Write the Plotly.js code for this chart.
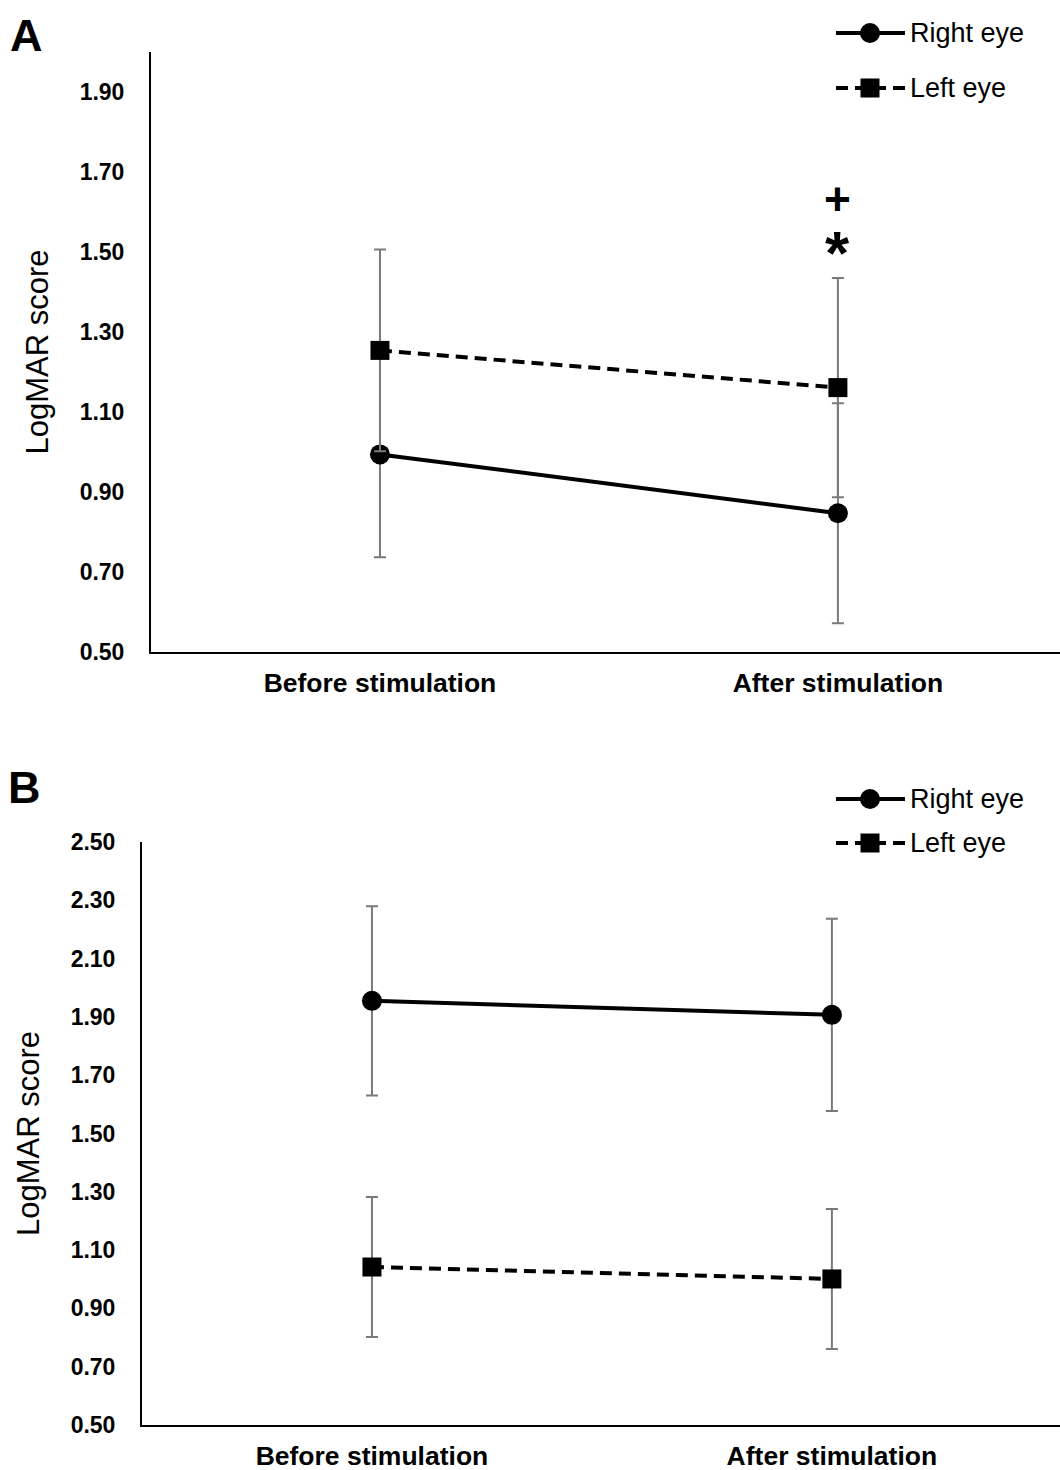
<!DOCTYPE html>
<html>
<head>
<meta charset="utf-8">
<script src="https://cdn.plot.ly/plotly-3.0.1.min.js"></script>
<style>html,body{margin:0;padding:0;background:#fff;}#chart{width:1060px;height:1470px;}</style>
</head>
<body>
<div id="chart"></div>
<script>
// ---- data ----
const categories = ["Before stimulation", "After stimulation"];
// Panel A
const A_right = [0.994, 0.847];
const A_right_err = [0.257, 0.275];
const A_left = [1.254, 1.161];
const A_left_err = [0.252, 0.274];
// Panel B
const B_right = [1.955, 1.907];
const B_right_err = [0.325, 0.330];
const B_left = [1.042, 1.001];
const B_left_err = [0.240, 0.240];
const seriesNames = ["Right eye", "Left eye"];
const A_ticks = [0.5, 0.7, 0.9, 1.1, 1.3, 1.5, 1.7, 1.9];
const B_ticks = [0.5, 0.7, 0.9, 1.1, 1.3, 1.5, 1.7, 1.9, 2.1, 2.3, 2.5];
const sigMarks = ["+", "*"];
const sigY = [1.632, 1.50];
const yTitle = "LogMAR score";
const panelLabels = ["A", "B"];

const FONT = "Liberation Sans, Arial, sans-serif";
const W = 1060, H = 1470;
const DASH = "12px,7px";
const errStyle = (arr) => ({type: "data", array: arr, visible: true, color: "#7a7a7a", thickness: 2, width: 6});

function mk(y, err, name, solid, xa, ya) {
  return {
    x: categories, y: y, name: name, type: "scatter", mode: "lines+markers",
    xaxis: xa, yaxis: ya, showlegend: false,
    line: {color: "#000", width: 4, dash: solid ? "solid" : DASH},
    marker: {color: "#000", size: solid ? 20 : 19, symbol: solid ? "circle" : "square"},
    error_y: errStyle(err)
  };
}

const data = [
  mk(A_right, A_right_err, seriesNames[0], true, "x", "y"),
  mk(A_left, A_left_err, seriesNames[1], false, "x", "y"),
  mk(B_right, B_right_err, seriesNames[0], true, "x2", "y2"),
  mk(B_left, B_left_err, seriesNames[1], false, "x2", "y2")
];

function yax(domain, range, ticks, anchor) {
  return {
    domain: domain, range: range, tickvals: ticks, ticktext: ticks.map(v => v.toFixed(2)),
    anchor: anchor,
    showgrid: false, zeroline: false, showline: true, linecolor: "#000", linewidth: 2,
    ticks: "", ticklabelstandoff: 20,
    tickfont: {family: FONT, size: 23, color: "#000", weight: "bold"},
    title: {text: yTitle, font: {family: FONT, size: 31, color: "#000"}, standoff: 22},
    fixedrange: true
  };
}
function xax(domain, range, anchor) {
  return {
    domain: domain, range: range, type: "category", anchor: anchor,
    showgrid: false, zeroline: false, showline: true, linecolor: "#000", linewidth: 2,
    ticks: "", ticklabelstandoff: 6,
    tickfont: {family: FONT, size: 26.5, color: "#000", weight: "bold"},
    fixedrange: true
  };
}

// custom legend (pixel positions converted to paper coordinates)
const px = (v) => v / W, py = (v) => 1 - v / H;
const shapes = [], annotations = [];
function legendEntry(cy, solid, label) {
  shapes.push({type: "line", xref: "paper", yref: "paper", x0: px(836), x1: px(905), y0: py(cy), y1: py(cy),
               line: {color: "#000", width: 4, dash: solid ? "solid" : DASH}});
  if (solid) {
    shapes.push({type: "circle", xref: "paper", yref: "paper", x0: px(860), x1: px(880), y0: py(cy + 10), y1: py(cy - 10),
                 fillcolor: "#000", line: {color: "#000", width: 0}});
  } else {
    shapes.push({type: "rect", xref: "paper", yref: "paper", x0: px(860.5), x1: px(879.5), y0: py(cy + 9.5), y1: py(cy - 9.5),
                 fillcolor: "#000", line: {color: "#000", width: 0}});
  }
  annotations.push({text: label, xref: "paper", yref: "paper", x: px(908), y: py(cy), xanchor: "left", yanchor: "middle",
                    showarrow: false, font: {family: FONT, size: 27, color: "#000"}});
}
legendEntry(33, true, seriesNames[0]);
legendEntry(88, false, seriesNames[1]);
legendEntry(799, true, seriesNames[0]);
legendEntry(843, false, seriesNames[1]);

annotations.push(
  {text: "<b>" + panelLabels[0] + "</b>", xref: "paper", yref: "paper", x: px(8), y: py(8), xanchor: "left", yanchor: "top",
   showarrow: false, font: {family: FONT, size: 45, color: "#000"}},
  {text: "<b>" + panelLabels[1] + "</b>", xref: "paper", yref: "paper", x: px(6), y: py(760), xanchor: "left", yanchor: "top",
   showarrow: false, font: {family: FONT, size: 45, color: "#000"}},
  {text: "<b>" + sigMarks[0] + "</b>", xref: "x", yref: "y", x: categories[1], y: sigY[0], showarrow: false,
   font: {family: FONT, size: 46, color: "#000"}},
  {text: "<b>" + sigMarks[1] + "</b>", xref: "x", yref: "y", x: categories[1], y: sigY[1], showarrow: false,
   font: {family: FONT, size: 62, color: "#000"}}
);

const layout = {
  width: W, height: H,
  margin: {l: 0, r: 0, t: 0, b: 0, pad: 0},
  paper_bgcolor: "#fff", plot_bgcolor: "#fff",
  font: {family: FONT, color: "#000"},
  xaxis: xax([151 / W, 1], [-0.5, 1.485], "y"),
  yaxis: yax([1 - 652 / H, 1 - 52 / H], [0.5, 2.0], A_ticks, "x"),
  xaxis2: xax([142 / W, 1], [-0.5, 1.496], "y2"),
  yaxis2: yax([1 - 1425 / H, 1 - 842 / H], [0.5, 2.5], B_ticks, "x2"),
  shapes: shapes,
  annotations: annotations,
  showlegend: false
};

Plotly.newPlot("chart", data, layout, {displayModeBar: false, staticPlot: true});
</script>
</body>
</html>
